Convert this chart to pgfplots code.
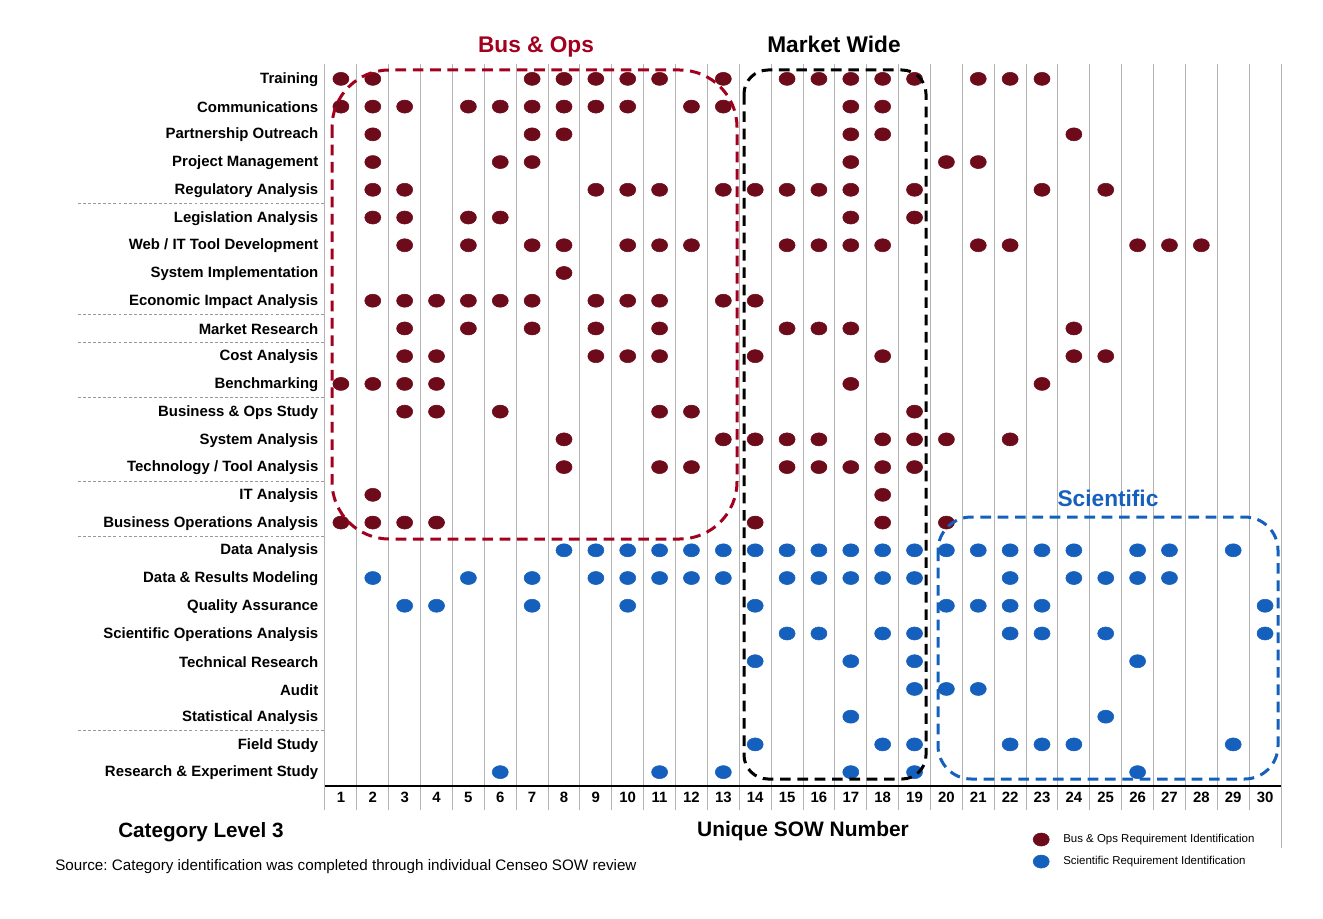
\documentclass[border=0pt]{standalone}
\usepackage{fontspec}
\setmainfont{Liberation Sans}
\usepackage{pgfplots}
\pgfplotsset{compat=1.18}
\frenchspacing
\definecolor{busred}{HTML}{6D0B1B}
\definecolor{boxred}{HTML}{A3001E}
\definecolor{sciblue}{HTML}{1560BD}
\definecolor{gridgray}{HTML}{B3B3B3}
\begin{document}
\begin{tikzpicture}
\begin{axis}[
  scale only axis, width=717pt, height=540.75pt,
  xmin=0.5, xmax=30.5, ymin=0.5, ymax=26.5, y dir=reverse,
  axis line style={draw=none}, major tick length=0pt,
  clip=false,
  xtick={1,...,30}, ytick={1,...,26},
  yticklabels={Training, Communications, Partnership Outreach, Project Management,
    Regulatory Analysis, Legislation Analysis, Web / IT Tool Development,
    System Implementation, Economic Impact Analysis, Market Research, Cost Analysis,
    Benchmarking, Business \& Ops Study, System Analysis, Technology / Tool Analysis,
    IT Analysis, Business Operations Analysis, Data Analysis, Data \& Results Modeling,
    Quality Assurance, Scientific Operations Analysis, Technical Research, Audit,
    Statistical Analysis, Field Study, Research \& Experiment Study},
  ticklabel style={font=\fontsize{11.2}{13}\selectfont\bfseries},
  /pgf/number format/assume math mode=true,
  x tick label style={yshift=-1pt},
  y tick label style={xshift=-1.5pt, yshift=-0.6pt},
  legend style={at={(axis description cs:0.7405,-0.063)}, anchor=north west,
    draw=none, fill=none, inner sep=0pt, column sep=8.5pt, row sep=4.8pt,
    font=\fontsize{8.6}{10}\selectfont},
  legend cell align=left,
]
% grid of SOW columns
\pgfplotsinvokeforeach{1,...,29}{
  \draw[gridgray, line width=0.75pt] (axis cs:#1.5,0.46) -- (axis cs:#1.5,27.37);
}
\draw[gridgray, line width=0.75pt] (axis cs:0.5,0.46) -- (axis cs:0.5,27.37);
\draw[gridgray, line width=0.75pt] (axis cs:30.5,0.46) -- (axis cs:30.5,28.74);
\draw[black, line width=0.9pt] (axis cs:0.5,26.5) -- (axis cs:30.5,26.5);
% group separators
\pgfplotsinvokeforeach{5.5,9.5,10.5,12.5,15.5,17.5,24.5}{
  \draw[gray!80, line width=0.5pt, dash pattern=on 2.2pt off 1.6pt]
    (axis cs:-7.25,#1) -- (axis cs:0.5,#1);
}

\addplot[only marks, mark=*, color=busred, mark size=4.9pt, mark options={xscale=1.23}]
coordinates {
(1,1) (2,1) (7,1) (8,1) (9,1) (10,1) (11,1) (13,1) (15,1) (16,1) (17,1) (18,1) (19,1) (21,1) (22,1) (23,1)
(1,2) (2,2) (3,2) (5,2) (6,2) (7,2) (8,2) (9,2) (10,2) (12,2) (13,2) (17,2) (18,2)
(2,3) (7,3) (8,3) (17,3) (18,3) (24,3)
(2,4) (6,4) (7,4) (17,4) (20,4) (21,4)
(2,5) (3,5) (9,5) (10,5) (11,5) (13,5) (14,5) (15,5) (16,5) (17,5) (19,5) (23,5) (25,5)
(2,6) (3,6) (5,6) (6,6) (17,6) (19,6)
(3,7) (5,7) (7,7) (8,7) (10,7) (11,7) (12,7) (15,7) (16,7) (17,7) (18,7) (21,7) (22,7) (26,7) (27,7) (28,7)
(8,8)
(2,9) (3,9) (4,9) (5,9) (6,9) (7,9) (9,9) (10,9) (11,9) (13,9) (14,9)
(3,10) (5,10) (7,10) (9,10) (11,10) (15,10) (16,10) (17,10) (24,10)
(3,11) (4,11) (9,11) (10,11) (11,11) (14,11) (18,11) (24,11) (25,11)
(1,12) (2,12) (3,12) (4,12) (17,12) (23,12)
(3,13) (4,13) (6,13) (11,13) (12,13) (19,13)
(8,14) (13,14) (14,14) (15,14) (16,14) (18,14) (19,14) (20,14) (22,14)
(8,15) (11,15) (12,15) (15,15) (16,15) (17,15) (18,15) (19,15)
(2,16) (18,16)
(1,17) (2,17) (3,17) (4,17) (14,17) (18,17) (20,17)
};
\addlegendentry{Bus \& Ops Requirement Identification}

\addplot[only marks, mark=*, color=sciblue, mark size=4.9pt, mark options={xscale=1.23}]
coordinates {
(8,18) (9,18) (10,18) (11,18) (12,18) (13,18) (14,18) (15,18) (16,18) (17,18) (18,18) (19,18) (20,18) (21,18) (22,18) (23,18) (24,18) (26,18) (27,18) (29,18)
(2,19) (5,19) (7,19) (9,19) (10,19) (11,19) (12,19) (13,19) (15,19) (16,19) (17,19) (18,19) (19,19) (22,19) (24,19) (25,19) (26,19) (27,19)
(3,20) (4,20) (7,20) (10,20) (14,20) (20,20) (21,20) (22,20) (23,20) (30,20)
(15,21) (16,21) (18,21) (19,21) (22,21) (23,21) (25,21) (30,21)
(14,22) (17,22) (19,22) (26,22)
(19,23) (20,23) (21,23)
(17,24) (25,24)
(14,25) (18,25) (19,25) (22,25) (23,25) (24,25) (29,25)
(6,26) (11,26) (13,26) (17,26) (19,26) (26,26)
};
\addlegendentry{Scientific Requirement Identification}
\end{axis}

% annotations in reference pixel units
\begin{scope}[x=0.75pt, y=-0.75pt, shift={(-243.75pt,589.5pt)}]
  \draw[boxred, line width=2.25pt, dash pattern=on 8pt off 5pt, rounded corners=43pt]
    (332,70) rectangle (737,539);
  \draw[black, line width=2.25pt, dash pattern=on 8pt off 5pt, rounded corners=18pt]
    (744,70) rectangle (926,779);
  \draw[sciblue, line width=2.25pt, dash pattern=on 8pt off 5pt, rounded corners=25pt]
    (938,517) rectangle (1278,779);
  \node[font=\fontsize{17}{20}\selectfont\bfseries, text=boxred] at (536,47) {Bus \& Ops};
  \node[font=\fontsize{17}{20}\selectfont\bfseries] at (834,44) {Market Wide};
  \node[font=\fontsize{17}{20}\selectfont\bfseries, text=sciblue] at (1108,498) {Scientific};
  \node[font=\fontsize{15.5}{18}\selectfont\bfseries] at (201,832) {Category Level 3};
  \node[font=\fontsize{15.7}{18}\selectfont\bfseries] at (803,831) {Unique SOW Number};
  \node[font=\fontsize{11.4}{13}\selectfont, anchor=west, inner sep=0pt] at (55,867)
    {Source: Category identification was completed through individual Censeo SOW review};
  \pgfresetboundingbox
  \path[use as bounding box] (0,0) rectangle (1323,918);
\end{scope}
\end{tikzpicture}
\end{document}
